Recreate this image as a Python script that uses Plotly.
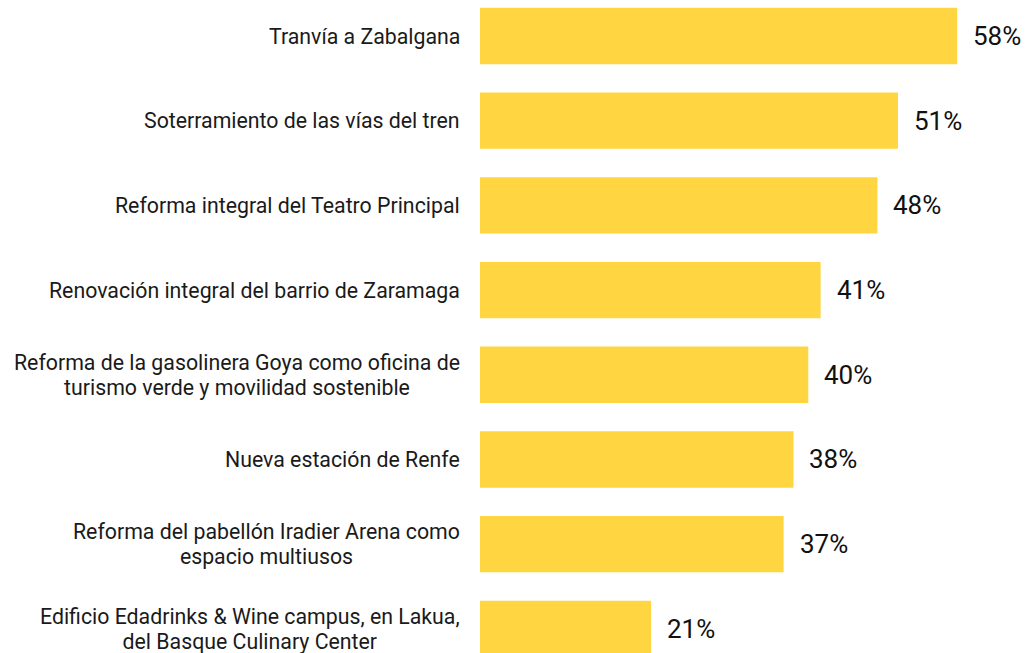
import plotly.graph_objects as go

categories = [
    "Tranvía a Zabalgana",
    "Soterramiento de las vías del tren",
    "Reforma integral del Teatro Principal",
    "Renovación integral del barrio de Zaramaga",
    "Reforma de la gasolinera Goya como oficina de<br>turismo verde y movilidad sostenible",
    "Nueva estación de Renfe",
    "Reforma del pabellón Iradier Arena como<br>espacio multiusos",
    "Edificio Edadrinks & Wine campus, en Lakua,<br>del Basque Culinary Center",
]
values = [58, 50.8, 48.3, 41.4, 39.9, 38.1, 36.9, 20.8]

BAR = "#FFD642"
FONT = "Roboto"


def label_html(c):
    # keep glyphs at 21.3px while the annotation's line step follows a 19px base (~25px)
    return "<br>".join(f'<span style="font-size:21.3px">{part}</span>' for part in c.split("<br>"))


fig = go.Figure(
    go.Bar(
        x=values,
        y=categories,
        orientation="h",
        marker=dict(color=BAR, line=dict(width=0)),
        hoverinfo="skip",
    )
)

annotations = []
for c, v in zip(categories, values):
    annotations.append(dict(
        x=0, xref="paper", y=c, yref="y",
        text=label_html(c), showarrow=False, xanchor="right", yanchor="middle",
        xshift=-18, align="center",
        font=dict(family=FONT, size=19, color="#1a1a1a"),
    ))
    annotations.append(dict(
        x=v, xref="x", y=c, yref="y",
        text=f"{v:.0f}%", showarrow=False, xanchor="left", yanchor="middle",
        xshift=14,
        font=dict(family=FONT, size=26, color="#111111"),
    ))

fig.update_layout(
    width=1026, height=653,
    margin=dict(l=480, r=0, t=0, b=0),
    paper_bgcolor="white", plot_bgcolor="white",
    bargap=0.335,
    showlegend=False,
    xaxis=dict(range=[0, 66.36], visible=False, fixedrange=True),
    yaxis=dict(type="category", range=[7.285, -0.425], showticklabels=False,
               showgrid=False, zeroline=False, showline=False, ticks="", fixedrange=True),
    annotations=annotations,
    font=dict(family=FONT),
)

fig.write_html(
    "out.html",
    config=dict(displayModeBar=False),
    post_script="document.body.style.margin='0';document.body.style.overflow='hidden';",
)
